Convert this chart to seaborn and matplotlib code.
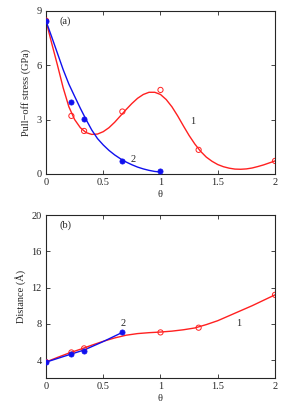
import pandas as pd
import matplotlib
matplotlib.use("Agg")
import matplotlib.pyplot as plt
import seaborn as sns

# coverage values of the computed points
theta_1 = [0, 0.222, 0.333, 0.667, 1.0, 1.333, 2.0]
theta_2 = [0, 0.222, 0.333, 0.667, 1.0]

# (a) pull-off stress, GPa
stress_1 = [8.45, 3.2, 2.37, 3.44, 4.63, 1.33, 0.72]
stress_2 = [8.43, 3.96, 3.02, 0.74, 0.15]

# fitted curves
fit_a1_x = [0, 0.05, 0.1, 0.15, 0.2, 0.25, 0.3, 0.35, 0.4, 0.45, 0.5, 0.55, 0.6, 0.65,
            0.7, 0.75, 0.8, 0.85, 0.9, 0.95, 1.0, 1.05, 1.1, 1.15, 1.2, 1.25, 1.3, 1.35,
            1.4, 1.45, 1.5, 1.55, 1.6, 1.65, 1.7, 1.75, 1.8, 1.85, 1.9, 1.95, 2.0]
fit_a1_y = [8.43, 7.2, 6.0, 4.75, 3.7, 3.0, 2.55, 2.28, 2.18, 2.2, 2.33, 2.55, 2.85, 3.2,
            3.55, 3.88, 4.17, 4.38, 4.5, 4.5, 4.38, 4.1, 3.7, 3.2, 2.65, 2.12, 1.65, 1.25,
            0.93, 0.7, 0.52, 0.4, 0.32, 0.27, 0.26, 0.28, 0.33, 0.41, 0.5, 0.61, 0.72]
fit_a2_x = [0, 0.05, 0.1, 0.15, 0.2, 0.25, 0.3, 0.35, 0.4, 0.45, 0.5, 0.55, 0.6, 0.65,
            0.7, 0.75, 0.8, 0.85, 0.9, 0.95, 1.0]
fit_a2_y = [8.43, 7.55, 6.65, 5.75, 4.95, 4.28, 3.62, 3.0, 2.42, 1.95, 1.6, 1.3, 1.05, 0.84,
            0.66, 0.51, 0.38, 0.28, 0.2, 0.14, 0.11]

# (b) distance, angstrom
theta_b1 = [0, 0.222, 0.333, 1.0, 1.333, 2.0]
dist_1 = [3.8, 4.85, 5.3, 7.06, 7.58, 11.2]
theta_b2 = [0, 0.222, 0.333, 0.667]
dist_2 = [3.78, 4.7, 5.03, 7.06]

fit_b1_x = [0, 0.1, 0.2, 0.3, 0.4, 0.5, 0.6, 0.7, 0.8, 0.9, 1.0, 1.1, 1.2, 1.3, 1.4,
            1.5, 1.6, 1.7, 1.8, 1.9, 2.0]
fit_b1_y = [3.8, 4.3, 4.78, 5.2, 5.65, 6.08, 6.45, 6.75, 6.93, 7.03, 7.1, 7.2, 7.35, 7.55,
            7.92, 8.35, 8.9, 9.45, 10.0, 10.6, 11.2]
fit_b2_x = [0, 0.222, 0.333, 0.5, 0.667]
fit_b2_y = [3.78, 4.68, 5.12, 6.05, 7.06]

sns.set_style("ticks")
plt.rcParams["font.family"] = ["Liberation Serif", "DejaVu Serif"]
plt.rcParams["font.size"] = 7.5

fig = plt.figure(figsize=(2.91, 4.07), dpi=100)
ax1 = fig.add_axes([0.158, 0.5725, 0.787, 0.4015])
ax2 = fig.add_axes([0.158, 0.0705, 0.787, 0.4012])

red = "#ff2020"
blue = "#1010ee"


def style(ax):
    ax.tick_params(direction="in", top=True, right=True, length=3, width=0.6,
                   labelsize=7.5, pad=3)
    for s in ax.spines.values():
        s.set_linewidth(0.8)
    ax.set_xlim(0, 2)
    ax.set_xticks([0, 0.5, 1, 1.5, 2])
    ax.set_xticklabels(["0", "0.5", "1", "1.5", "2"])
    ax.set_xlabel("θ", labelpad=2)


# panel (a)
sns.lineplot(x=fit_a1_x, y=fit_a1_y, ax=ax1, color=red, lw=1.0, sort=False)
sns.lineplot(x=fit_a2_x, y=fit_a2_y, ax=ax1, color=blue, lw=1.0, sort=False)
sns.scatterplot(x=theta_1, y=stress_1, ax=ax1, marker="o", s=14,
                facecolors="none", edgecolor=red, linewidth=0.7, zorder=3)
sns.scatterplot(x=theta_2, y=stress_2, ax=ax1, marker="o", s=14,
                color=blue, edgecolor=blue, linewidth=0.5, zorder=4)
style(ax1)
ax1.set_ylim(0, 9)
ax1.set_yticks([0, 3, 6, 9])
ax1.set_ylabel("Pull\u2212off stress (GPa)", labelpad=4)
ax1.text(0.12, 8.4, "(a)", va="center", ha="left")
ax1.text(1.28, 2.88, "1", va="center", ha="center")
ax1.text(0.757, 0.8, "2", va="center", ha="center")

# panel (b)
sns.lineplot(x=fit_b1_x, y=fit_b1_y, ax=ax2, color=red, lw=1.0, sort=False)
sns.lineplot(x=fit_b2_x, y=fit_b2_y, ax=ax2, color=blue, lw=1.0, sort=False)
sns.scatterplot(x=theta_b1, y=dist_1, ax=ax2, marker="o", s=14,
                facecolors="none", edgecolor=red, linewidth=0.7, zorder=3)
sns.scatterplot(x=theta_b2, y=dist_2, ax=ax2, marker="o", s=14,
                color=blue, edgecolor=blue, linewidth=0.5, zorder=4)
style(ax2)
ax2.set_ylim(2, 20)
ax2.set_yticks([4, 8, 12, 16, 20])
ax2.set_ylabel("Distance (Å)", labelpad=4)
ax2.text(0.12, 18.9, "(b)", va="center", ha="left")
ax2.text(1.68, 8.0, "1", va="center", ha="center")
ax2.text(0.675, 8.0, "2", va="center", ha="center")

fig.savefig("out.png", dpi=100)
